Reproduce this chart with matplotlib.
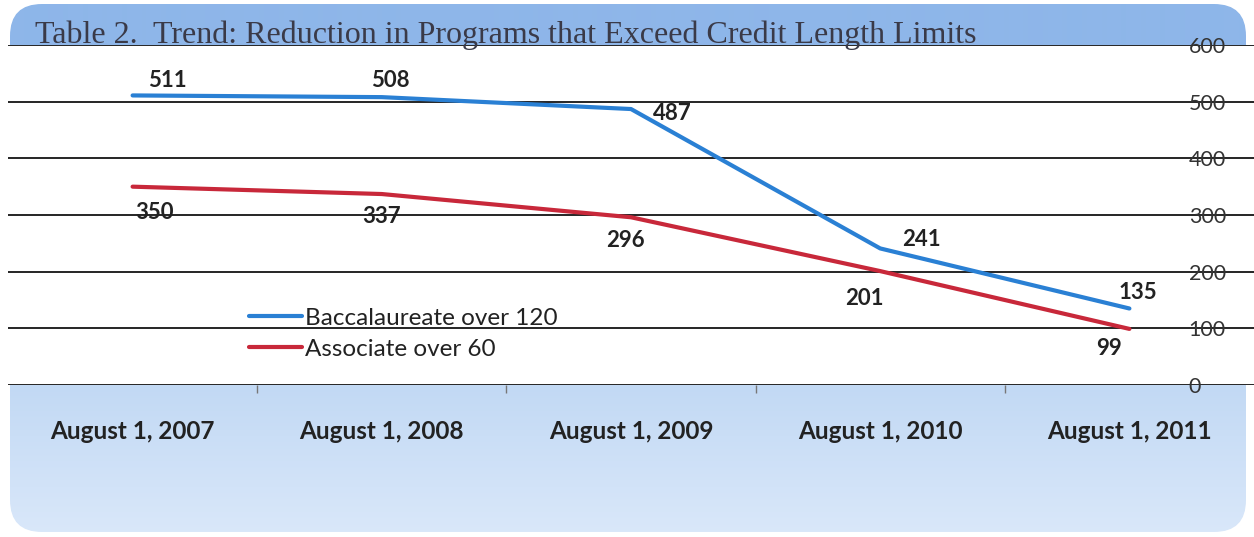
import numpy as np
import matplotlib
matplotlib.use("Agg")
import matplotlib.pyplot as plt
from matplotlib.patches import FancyBboxPatch

# data
dates = ["August 1, 2007", "August 1, 2008", "August 1, 2009", "August 1, 2010", "August 1, 2011"]
bacc = [511, 508, 487, 241, 135]
assoc = [350, 337, 296, 201, 99]
yticks = [0, 100, 200, 300, 400, 500, 600]

W, H = 1254, 537
fig = plt.figure(figsize=(W / 100, H / 100), dpi=100, facecolor="white")

# background frame (pixel coords)
bg = fig.add_axes([0, 0, 1, 1], zorder=-5)
bg.set_xlim(0, W)
bg.set_ylim(H, 0)
bg.axis("off")
frame = FancyBboxPatch((10, 4), 1236, 528, boxstyle="round,pad=0,rounding_size=32",
                       facecolor="none", edgecolor="none")
bg.add_patch(frame)
grad = np.zeros((H, 1, 3))
for r in range(H):
    if r < 46:
        grad[r, 0] = np.array([142, 182, 233]) / 255
    else:
        t = (r - 385) / (H - 385)
        t = min(max(t, 0), 1)
        grad[r, 0] = (np.array([194, 217, 244]) * (1 - t) + np.array([218, 232, 250]) * t) / 255
img = bg.imshow(grad, extent=(0, W, H, 0), aspect="auto", interpolation="bilinear")
img.set_clip_path(frame)

# main chart
ax = fig.add_axes([8 / W, (H - 385) / H, (W - 8) / W, 340 / H])
ax.set_facecolor("white")
x = np.arange(len(dates))
blue = "#2a80d4"
red = "#c8283a"
ax.plot(x, bacc, color=blue, lw=3, solid_capstyle="round", label="Baccalaureate over 120", zorder=3)
ax.plot(x, assoc, color=red, lw=3, solid_capstyle="round", label="Associate over 60", zorder=3)

ax.set_xlim(-0.5, len(dates) - 0.5)
ax.set_ylim(0, 600)
ax.set_yticks(yticks)
ax.grid(axis="y", color="black", lw=1.2)
ax.set_axisbelow(True)
for s in ax.spines.values():
    s.set_visible(False)

ax.set_xticks(x)
ax.set_xticklabels(dates, fontfamily="Lato", fontweight="bold", fontsize=17.5, color="#222222")
ax.set_xticks(x[:-1] + 0.5, minor=True)
ax.tick_params(axis="x", which="major", length=0, pad=25)
ax.tick_params(axis="x", which="minor", length=6, color="#777777", width=1)

ax.yaxis.tick_right()
ax.tick_params(axis="y", length=0, pad=-47, labelsize=15.5, labelcolor="#333333")
for lab in ax.get_yticklabels():
    lab.set_fontfamily("Lato")

# data labels
bacc_off = [(35, 15), (9, 17), (41, -4), (41, 9), (8, 16)]
assoc_off = [(22, -26), (0, -22), (-6, -23), (-16, -27), (-20, -20)]
for i in range(len(dates)):
    ax.annotate(str(bacc[i]), (x[i], bacc[i]), xytext=bacc_off[i], textcoords="offset pixels",
                ha="center", va="center", fontfamily="Lato", fontweight="bold", fontsize=16, color="#222222")
    ax.annotate(str(assoc[i]), (x[i], assoc[i]), xytext=assoc_off[i], textcoords="offset pixels",
                ha="center", va="center", fontfamily="Lato", fontweight="bold", fontsize=16, color="#222222")

leg = ax.legend(loc="upper left", bbox_to_anchor=(231 / (W - 8), 1 - 253 / 340), frameon=False,
                prop={"family": "Lato", "size": 17.5}, handlelength=2.2, handletextpad=0.1,
                labelspacing=0.42, borderaxespad=0)
for t in leg.get_texts():
    t.set_color("#222222")

fig.text(35 / W, 1 - 43 / H, "Table 2.  Trend: Reduction in Programs that Exceed Credit Length Limits",
         fontfamily="Liberation Serif", fontsize=23, color="#3a3a48", va="baseline", ha="left", zorder=10)

fig.savefig("out.png", dpi=100, facecolor=fig.get_facecolor())
